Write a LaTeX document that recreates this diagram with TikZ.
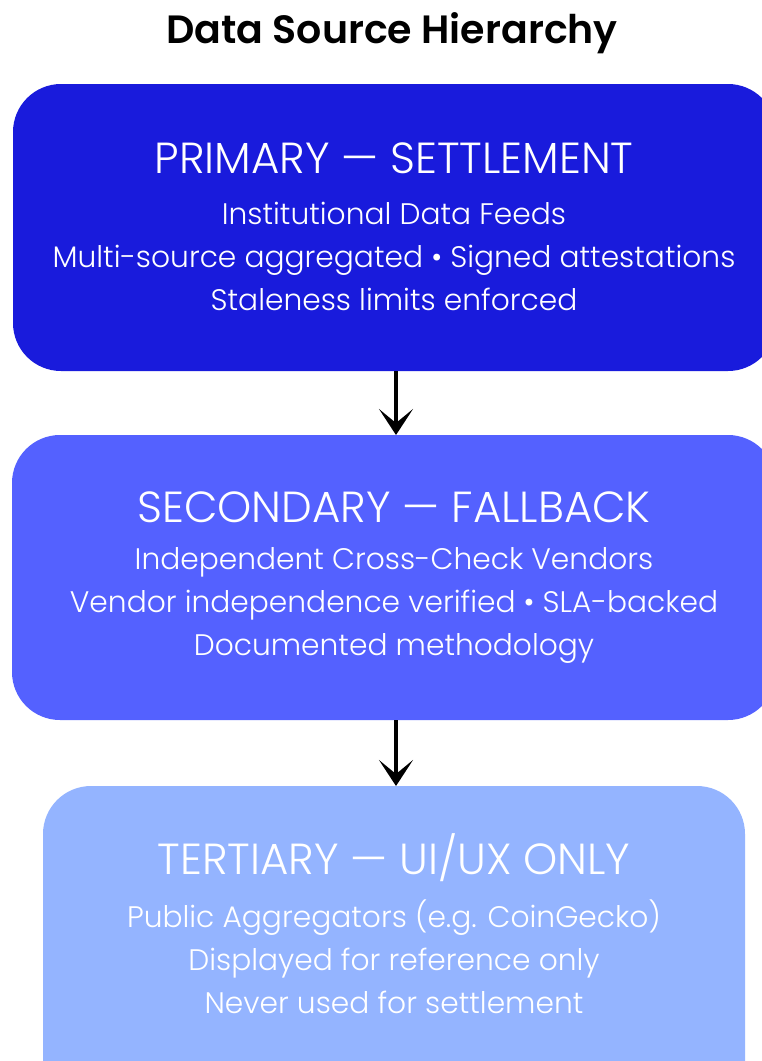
\documentclass[tikz,border=0pt]{standalone}
\usepackage{fontspec}
\setmainfont{Poppins}
\newfontfamily\lightfont{Poppins Light}
\newfontfamily\semifont{Poppins SemiBold}
\usetikzlibrary{arrows.meta}
\definecolor{primaryblue}{RGB}{25,27,220}
\definecolor{secondaryblue}{RGB}{84,97,255}
\definecolor{tertiaryblue}{RGB}{148,180,255}
\tikzset{
  tier/.style={rounded corners=48pt, draw=none},
  tierhead/.style={text=white, font=\lightfont\fontsize{43.5}{47}\selectfont, anchor=center},
  tierbody/.style={text=white, font=\lightfont\fontsize{29.7}{43}\selectfont, align=center, anchor=center},
  flow/.style={line width=3.2pt, -{Stealth[length=26pt,width=34pt,inset=14pt]}},
}
\begin{document}
\begin{tikzpicture}[x=1pt,y=-1pt]
  \useasboundingbox (0,0) rectangle (762,1061);
  \fill[white] (0,0) rectangle (762,1061);

  \node[font=\semifont\fontsize{39.5}{43}\selectfont] (title) at (392,33) {Data Source Hierarchy};

  % tier boxes
  \fill[tier, primaryblue] (13,84) rectangle (776,371);
  \fill[tier, secondaryblue] (12,435) rectangle (776,720);
  \fill[tier, tertiaryblue] (43,786) rectangle (745,1110);

  \coordinate (p-bot) at (396,371);
  \coordinate (s-top) at (396,435);
  \coordinate (s-bot) at (396,720);
  \coordinate (t-top) at (396,786);

  \node[tierhead] (p-head) at (394,158) {PRIMARY — SETTLEMENT};
  \node[tierbody] (p-body) at (394,256) {Institutional Data Feeds\\Multi-source aggregated • Signed attestations\\Staleness limits enforced};

  \node[tierhead] (s-head) at (394,507) {SECONDARY — FALLBACK};
  \node[tierbody] (s-body) at (394,605) {Independent Cross-Check Vendors\\Vendor independence verified • SLA-backed\\Documented methodology};

  \node[tierhead] (t-head) at (394,858) {TERTIARY — UI/UX ONLY};
  \node[tierbody] (t-body) at (394,957) {Public Aggregators (e.g. CoinGecko)\\Displayed for reference only\\Never used for settlement};

  \draw[flow] (p-bot) -- (s-top);
  \draw[flow] (s-bot) -- (t-top);
\end{tikzpicture}
\end{document}
